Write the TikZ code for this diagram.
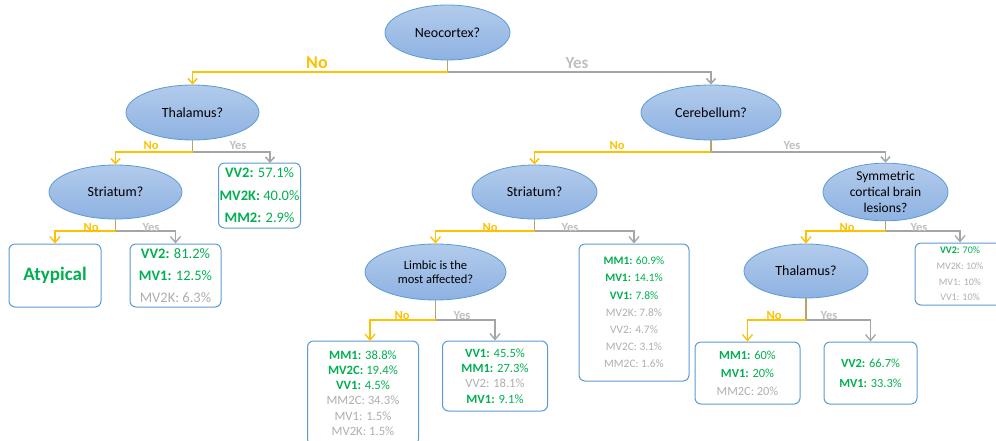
\documentclass[tikz,border=0pt]{standalone}
\usepackage{fontspec}
\setmainfont{Carlito}
\usetikzlibrary{arrows.meta,shapes.geometric}
\definecolor{tyel}{HTML}{FFC000}
\definecolor{tgray}{HTML}{A5A5A5}
\definecolor{tlab}{HTML}{BFBFBF}
\definecolor{tgreen}{HTML}{00B050}
\definecolor{tbord}{HTML}{5B9BD5}
\definecolor{ftop}{HTML}{B2CBEB}
\definecolor{fbot}{HTML}{8EB2E2}
\definecolor{tstub}{HTML}{B8A46A}
\definecolor{boxtxt}{HTML}{AFAFAF}
\newcommand{\gtxt}[2]{{\color{tgreen}\textbf{#1:} #2}}
\newcommand{\ltxt}[1]{{\color{boxtxt}#1}}
\begin{document}
\begin{tikzpicture}[x=1pt,y=-1pt,
  q/.style={ellipse, draw=tbord, line width=0.8pt, top color=ftop, bottom color=fbot,
    inner sep=0pt, align=center, text=black, font=\fontsize{14}{15.7}\selectfont},
  rbox/.style={draw=tbord, line width=1pt, rounded corners=6pt, fill=white, align=center, inner sep=0pt},
  noline/.style={draw=tyel, line width=1.5pt, -{Straight Barb[length=5pt,width=9pt]}},
  yesline/.style={draw=tgray, line width=1.5pt, -{Straight Barb[length=5pt,width=9pt]}},
  stub/.style={draw=tstub, line width=1.5pt},
  thin/.style={line width=1.1pt, -{Straight Barb[length=6pt,width=10pt,line width=1.3pt]}},
  thinstub/.style={draw=tstub, line width=1.1pt},
  nolab/.style={text=tyel, inner sep=0pt, font=\bfseries\fontsize{12.5}{14}\selectfont},
  yeslab/.style={text=tlab, inner sep=0pt, font=\bfseries\fontsize{12.5}{14}\selectfont}
]
\useasboundingbox (0,0) rectangle (996,440);

% question ellipses
\node[q, minimum width=125pt, minimum height=55pt] (neo) at (447.5,32.5) {Neocortex?};
\node[q, minimum width=133pt, minimum height=55pt] (thalL) at (192.5,112.5) {Thalamus?};
\node[q, minimum width=133pt, minimum height=54pt] (strL) at (115.5,192) {Striatum?};
\node[q, minimum width=140pt, minimum height=55pt] (cereb) at (711,112.5) {Cerebellum?};
\node[q, minimum width=125pt, minimum height=54pt] (strM) at (534.5,192) {Striatum?};
\node[q, minimum width=141pt, minimum height=56pt, font=\fontsize{12.5}{14}\selectfont] (limb) at (435.5,272) {Limbic is the\\most affected?};
\node[q, minimum width=125pt, minimum height=54pt, font=\fontsize{13.5}{15.7}\selectfont] (sym) at (885.5,192) {Symmetric\\cortical brain\\lesions?};
\node[q, minimum width=124pt, minimum height=54pt] (thalR) at (806,271) {Thalamus?};

% result boxes
\node[rbox, minimum width=82pt, minimum height=65pt, font=\fontsize{14.5}{22.5}\selectfont] (b1) at (259.5,195.5)
  {\gtxt{VV2}{57.1\%}\\\gtxt{MV2K}{40.0\%}\\\gtxt{MM2}{2.9\%}};
\node[rbox, minimum width=92pt, minimum height=63pt, text=tgreen, font=\bfseries\fontsize{19}{22}\selectfont] (atyp) at (55,275.5) {Atypical};
\node[rbox, minimum width=91pt, minimum height=63pt, font=\fontsize{14.5}{22}\selectfont] (b2) at (175.5,275.5)
  {\gtxt{VV2}{81.2\%}\\\gtxt{MV1}{12.5\%}\\\ltxt{MV2K: 6.3\%}};
\node[rbox, minimum width=110pt, minimum height=137pt, font=\fontsize{11.4}{17.2}\selectfont] (b3) at (634,312.5)
  {\gtxt{MM1}{60.9\%}\\\gtxt{MV1}{14.1\%}\\\gtxt{VV1}{7.8\%}\\\ltxt{MV2K: 7.8\%}\\\ltxt{VV2: 4.7\%}\\\ltxt{MV2C: 3.1\%}\\\ltxt{MM2C: 1.6\%}};
\node[rbox, minimum width=90pt, minimum height=62pt, font=\fontsize{10}{15.7}\selectfont] (b4) at (960,274)
  {\gtxt{VV2}{70\%}\\\ltxt{MV2K: 10\%}\\\ltxt{MV1: 10\%}\\\ltxt{VV1: 10\%}};
\node[rbox, minimum width=111pt, minimum height=104pt, font=\fontsize{12.7}{15.3}\selectfont] (b5) at (363,393)
  {\gtxt{MM1}{38.8\%}\\\gtxt{MV2C}{19.4\%}\\\gtxt{VV1}{4.5\%}\\\ltxt{MM2C: 34.3\%}\\\ltxt{MV1: 1.5\%}\\\ltxt{MV2K: 1.5\%}};
\node[rbox, minimum width=105pt, minimum height=70pt, font=\fontsize{12.6}{15.3}\selectfont] (b6) at (495,376)
  {\gtxt{VV1}{45.5\%}\\\gtxt{MM1}{27.3\%}\\\ltxt{VV2: 18.1\%}\\\gtxt{MV1}{9.1\%}};
\node[rbox, minimum width=105pt, minimum height=62pt, font=\fontsize{12.4}{18}\selectfont] (b7) at (747.5,373)
  {\gtxt{MM1}{60\%}\\\gtxt{MV1}{20\%}\\\ltxt{MM2C: 20\%}};
\node[rbox, minimum width=93pt, minimum height=62pt, font=\fontsize{12.4}{20}\selectfont] (b8) at (870.5,373)
  {\gtxt{VV2}{66.7\%}\\\gtxt{MV1}{33.3\%}};

% junctions
\coordinate (j0) at (447.5,72);
\coordinate (j1) at (192.5,152);
\coordinate (j2) at (711,152);
\coordinate (j3) at (115.5,231);
\coordinate (j4) at (534.5,231);
\coordinate (j5) at (885.5,231);
\coordinate (j6) at (435.5,320);
\coordinate (j7) at (806,320);
\coordinate (a1) at (270,163);
\coordinate (a6) at (370,341);

% connectors
\draw[stub] (neo.south) -- (j0);
\draw[noline] (j0) -| (thalL.north);
\draw[yesline] (j0) -| (cereb.north);

\draw[stub] (thalL.south) -- (j1);
\draw[noline] (j1) -| (strL.north);
\draw[yesline] (j1) -| (a1);

\draw[stub] (cereb.south) -- (j2);
\draw[noline] (j2) -| (strM.north);
\draw[yesline] (j2) -| (sym.north);

\draw[thinstub] (strL.south) -- (j3);
\draw[noline,thin] (j3) -| (atyp.north);
\draw[yesline,thin] (j3) -| (b2.north);

\draw[thinstub] (strM.south) -- (j4);
\draw[noline,thin] (j4) -| (limb.north);
\draw[yesline,thin] (j4) -| (b3.north);

\draw[thinstub] (sym.south) -- (j5);
\draw[noline,thin] (j5) -| (thalR.north);
\draw[yesline,thin] (j5) -| (b4.north);

\draw[thinstub] (limb.south) -- (j6);
\draw[noline,thin] (j6) -| (a6);
\draw[yesline,thin] (j6) -| (b6.north);

\draw[thinstub] (thalR.south) -- (j7);
\draw[noline,thin] (j7) -| (b7.north);
\draw[yesline,thin] (j7) -| (b8.north);

% labels
\node[nolab, font=\bfseries\fontsize{18}{20}\selectfont] (l0n) at (317,63) {No};
\node[yeslab, font=\bfseries\fontsize{17}{20}\selectfont] (l0y) at (577,63) {Yes};
\node[nolab] (l1n) at (151,145) {No};
\node[yeslab] (l1y) at (238,145) {Yes};
\node[nolab] (l2n) at (617,145) {No};
\node[yeslab] (l2y) at (792,145) {Yes};
\node[nolab] (l3n) at (91,227) {No};
\node[yeslab] (l3y) at (151,227) {Yes};
\node[nolab] (l4n) at (490,227) {No};
\node[yeslab] (l4y) at (570,227) {Yes};
\node[nolab] (l5n) at (847,227) {No};
\node[yeslab] (l5y) at (919,227) {Yes};
\node[nolab] (l6n) at (402,315) {No};
\node[yeslab] (l6y) at (462,315) {Yes};
\node[nolab] (l7n) at (774,315) {No};
\node[yeslab] (l7y) at (829,315) {Yes};
\end{tikzpicture}
\end{document}
